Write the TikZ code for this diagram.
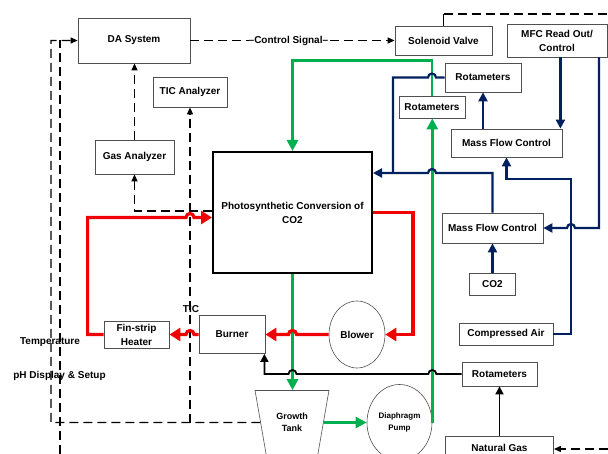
\documentclass[tikz,border=0pt]{standalone}
\usepackage{fontspec}
\setmainfont{Liberation Sans}
\usetikzlibrary{shapes.geometric, arrows.meta, calc}
\definecolor{pipegreen}{RGB}{0,176,80}
\definecolor{pipenavy}{RGB}{0,32,96}
\definecolor{pipered}{RGB}{240,0,0}
\definecolor{boxgray}{RGB}{80,80,80}

\begin{document}
\begin{tikzpicture}[
    x=1pt, y=1pt,
    unit/.style={rectangle, draw=boxgray, line width=0.8pt, inner sep=1pt, align=center, font=\bfseries\fontsize{10}{14}\selectfont},
    roundunit/.style={ellipse, draw=boxgray, line width=0.6pt, inner sep=0pt, align=center, font=\bfseries\fontsize{10}{14}\selectfont},
    tag/.style={inner sep=1pt, font=\bfseries\fontsize{10}{12}\selectfont},
    signal/.style={line width=1.2pt, dash pattern=on 9pt off 5pt},
    sigtip/.style={-{Triangle[length=7pt,width=6pt]}},
    greenpipe/.style={line width=2.8pt, draw=pipegreen, -{Triangle[length=11pt,width=11pt]}},
    redpipe/.style={line width=3.2pt, draw=pipered, -{Triangle[length=11pt,width=13pt]}},
    navypipe/.style={line width=2.2pt, draw=pipenavy, -{Triangle[length=9pt,width=9pt]}},
    blackpipe/.style={line width=1.8pt, draw=black, -{Triangle[length=8pt,width=8pt]}}
]
    \useasboundingbox (0,0) rectangle (608,-454);

    % Data acquisition
    \node[unit, minimum width=112pt, minimum height=45pt] (da) at (134,-40.5) {DA System};
    \node[unit, minimum width=74pt, minimum height=30pt] (ticbox) at (190,-92) {TIC Analyzer};
    \node[unit, minimum width=79pt, minimum height=34pt] (gasbox) at (134.5,-157) {Gas Analyzer};

    % Valve and MFC read out
    \node[unit, minimum width=97pt, minimum height=29pt] (valve) at (443.5,-40.5) {Solenoid Valve};
    \node[unit, minimum width=100pt, minimum height=33pt] (readout) at (557,-40.5) {MFC Read Out/\\Control};

    % Rotameters
    \node[unit, minimum width=76pt, minimum height=29pt] (rotaup) at (483,-77.5) {Rotameters};
    \node[unit, minimum width=66pt, minimum height=22pt] (rotamid) at (432,-107) {Rotameters};
    \node[unit, minimum width=75pt, minimum height=24pt] (rotalow) at (499.5,-374) {Rotameters};

    % Mass flow controllers
    \node[unit, minimum width=111pt, minimum height=28pt] (mfcup) at (506.5,-143) {Mass Flow Control};
    \node[unit, minimum width=101pt, minimum height=30pt] (mfclow) at (492.5,-228) {Mass Flow Control};

    % Gas supplies
    \node[unit, minimum width=46pt, minimum height=22pt] (co2) at (492.5,-284) {CO2};
    \node[unit, minimum width=94pt, minimum height=22pt] (air) at (506,-334) {Compressed Air};
    \node[unit, minimum width=108pt, minimum height=24pt] (natgas) at (499.5,-448) {Natural Gas};

    % Reactor
    \node[rectangle, draw, line width=2pt, minimum width=159pt, minimum height=121pt, align=center,
          font=\bfseries\fontsize{10}{14}\selectfont] (photo) at (292.5,-212.5) {Photosynthetic Conversion of\\CO2};

    % Heating loop
    \node[roundunit, minimum width=56pt, minimum height=67pt] (blower) at (357,-334.5) {Blower};
    \node[unit, minimum width=66pt, minimum height=38pt] (burner) at (232,-334.5) {Burner};
    \node[unit, minimum width=65pt, minimum height=27pt] (heater) at (136.5,-334.5) {Fin-strip\\Heater};

    % Tank and pump
    \node[trapezium, draw=boxgray, line width=0.6pt, trapezium stretches=true, trapezium left angle=72,
          trapezium right angle=72, shape border rotate=180, minimum width=74pt, minimum height=64pt,
          align=center, font=\bfseries\fontsize{9}{12}\selectfont] (tank) at (292,-422.5) {Growth\\Tank};
    \node[roundunit, minimum width=65pt, minimum height=76pt, font=\bfseries\fontsize{8}{12}\selectfont] (pump) at (399.5,-422.5) {Diaphragm\\Pump};

    % Free labels
    \node[tag] (ticlabel) at (191,-309) {TIC};
    \node[tag] (templabel) at (50,-342) {Temperature};
    \node[tag] (phlabel) at (59.5,-376) {pH Display \& Setup};

    % Free ends and bends
    \coordinate (loopcorner) at (51,-422.5);
    \coordinate (phdrop) at (60,-454);
    \coordinate (valveout) at (608,-14);
    \coordinate (gasin) at (608,-449);
    \coordinate (airbend) at (571,-179);
    \coordinate (navyjoin) at (393,-173);

    % Signal lines
    \draw[signal, sigtip] (da.east) -- node[pos=0.48, fill=white, inner xsep=0pt, inner ysep=1pt,
          font=\bfseries\fontsize{10}{11}\selectfont] {--Control Signal--} (valve.west);
    \draw[line width=1.2pt] (valve.north) -- (valve.north |- valveout);
    \draw[signal] (valve.north |- valveout) -- (valveout);
    \draw[signal, sigtip] (tank) -- (loopcorner) |- (da.west);
    \draw[signal] (phdrop) -- (phdrop |- da.west);
    \draw[signal, sigtip] (ticbox.south |- loopcorner) -- (ticbox.south);
    \draw[signal, sigtip] ([yshift=1.5pt]photo.west) -| (gasbox.south);
    \draw[signal, sigtip] (gasbox.north) -- (gasbox.north |- da.south);
    \draw[signal, sigtip] (gasin) -- (gasin -| natgas.east);

    % Culture loop
    \draw[greenpipe] (rotamid.north) -- ++(0,35) -| (photo.north);
    \draw[greenpipe] (photo.south) -- (photo.south |- tank.north);
    \draw[greenpipe] (tank) -- (pump);
    \draw[greenpipe] (pump.east) -- (pump.east |- rotamid.south);

    % Hot air loop
    \draw[redpipe] (photo.east) -- ++(40,0) |- (blower.east);
    \draw[redpipe] (blower.west) -- ($(photo.south |- blower.west)+(4,0)$)
        arc[start angle=0, end angle=180, radius=4pt] -- (burner.east);
    \draw[redpipe] (burner.west) -- ($(ticbox.south |- burner.west)+(4,0)$)
        arc[start angle=0, end angle=180, radius=4pt] -- (heater.east);
    \draw[redpipe] (heater.west) -- ++(-16,0) |- ($(ticbox.south |- 0,-217.5)+(-4,0)$)
        arc[start angle=180, end angle=0, radius=4pt] -- ([yshift=-5pt]photo.west);

    % Fuel line
    \draw[blackpipe] (rotalow.west) -- ($(pump.east |- rotalow.west)+(4,0)$)
        arc[start angle=0, end angle=180, radius=4pt] -- ($(photo.south |- rotalow.west)+(4,0)$)
        arc[start angle=0, end angle=180, radius=4pt] -| ([xshift=-1pt]burner.south east);
    \draw[blackpipe] (natgas.north) -- (rotalow.south);

    % Gas feed lines
    \draw[navypipe] ([xshift=-2pt]readout.south -| mfcup.north east) -- ([xshift=-2pt]mfcup.north east);
    \draw[navypipe] ([xshift=42pt]readout.south) |- ($(airbend |- mfclow.east)+(4,0)$)
        arc[start angle=0, end angle=180, radius=4pt] -- (mfclow.east);
    \draw[navypipe] (air.east) -| (airbend) -| (mfcup.south);
    \draw[navypipe] (mfcup.north -| rotaup.south) -- (rotaup.south);
    \draw[navypipe, -] (rotaup.west) -- ($(rotamid.north |- rotaup.west)+(4,0)$)
        arc[start angle=0, end angle=180, radius=4pt] -| (navyjoin);
    \draw[navypipe] (mfclow.north) |- ($(rotamid.south |- navyjoin)+(4,0)$)
        arc[start angle=0, end angle=180, radius=4pt] -- (photo.east |- navyjoin);
    \draw[navypipe] (co2.north) -- (mfclow.south);

\end{tikzpicture}
\end{document}
